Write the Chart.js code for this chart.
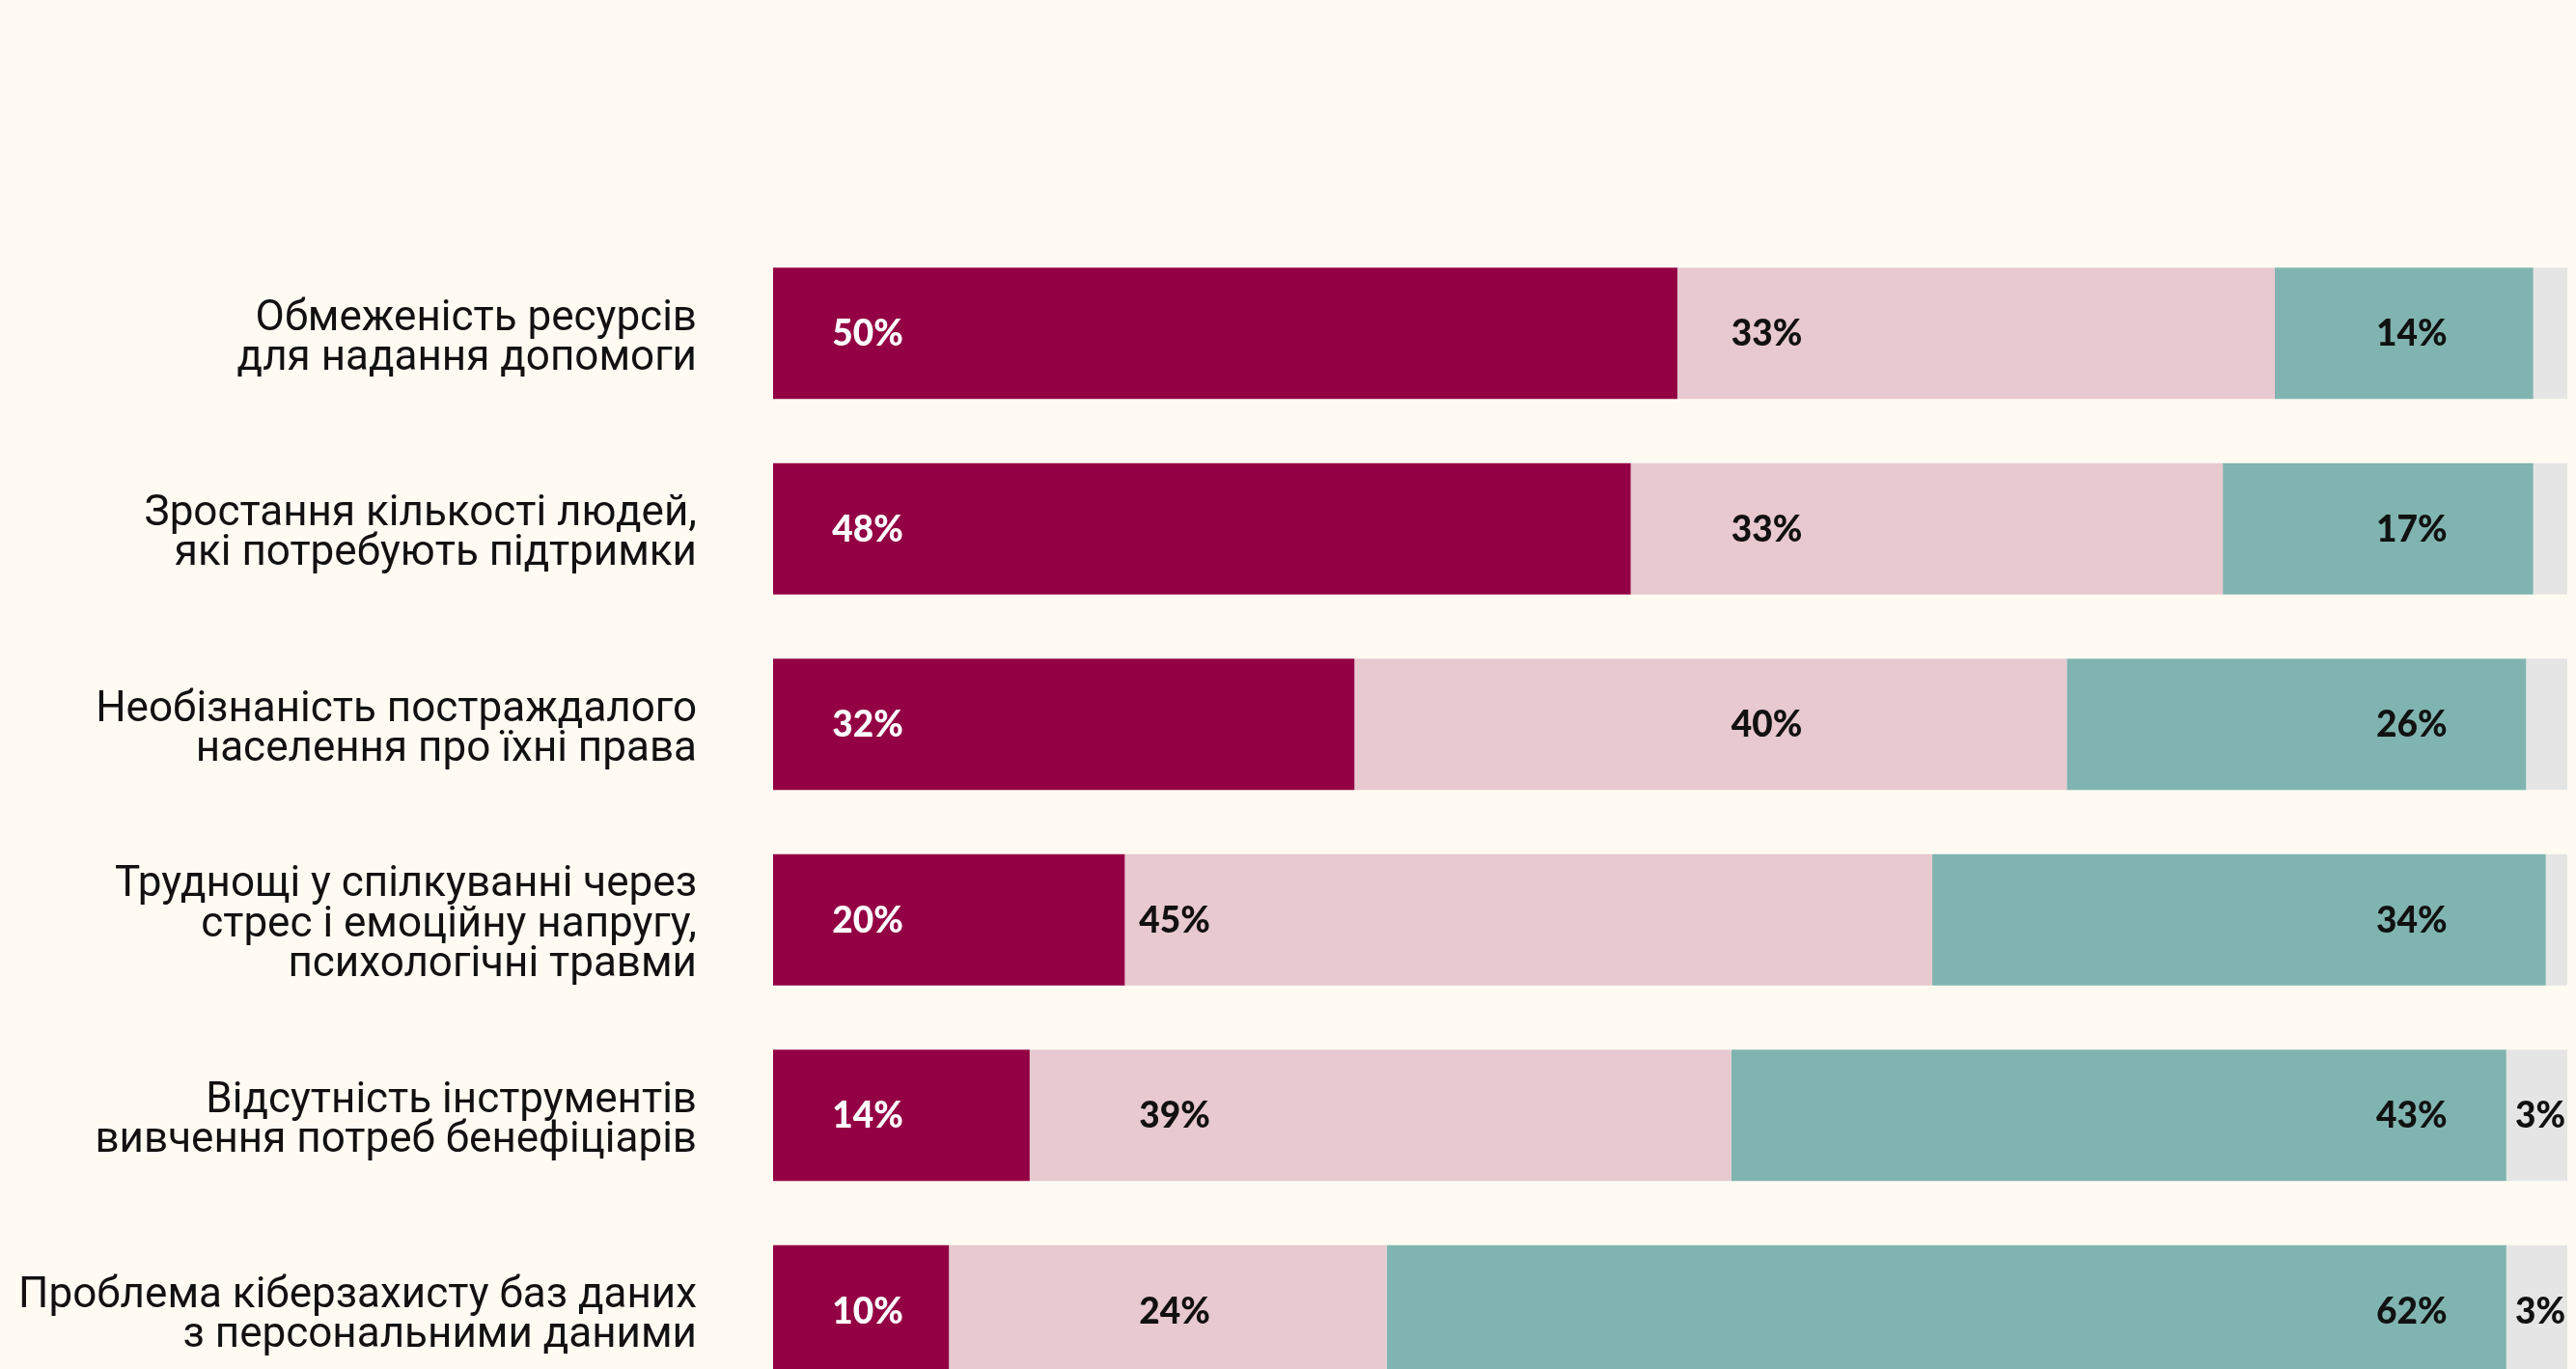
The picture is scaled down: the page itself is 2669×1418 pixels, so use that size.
<!DOCTYPE html>
<html lang="uk">
<head>
<meta charset="utf-8">
<title>Chart</title>
<script src="https://cdn.jsdelivr.net/npm/chart.js@4.4.1/dist/chart.umd.min.js"></script>
<style>
  html, body { margin: 0; padding: 0; background: #FFFBF3; overflow: hidden; }
  #wrap { width: 2669px; height: 1418px; overflow: hidden; }
  canvas { display: block; width: 2669px; height: 1459px; }
</style>
</head>
<body>
<div id="wrap"><canvas id="c" width="2669" height="1459"></canvas></div>
<script>
// ---- data ----
const categories = [
  ["Обмеженість ресурсів", "для надання допомоги"],
  ["Зростання кількості людей,", "які потребують підтримки"],
  ["Необізнаність постраждалого", "населення про їхні права"],
  ["Труднощі у спілкуванні через", "стрес і емоційну напругу,", "психологічні травми"],
  ["Відсутність інструментів", "вивчення потреб бенефіціарів"],
  ["Проблема кіберзахисту баз даних", "з персональними даними"]
];
const seriesNames = ["Серія 1", "Серія 2", "Серія 3", "Серія 4"];
const series1 = [50.4, 47.8, 32.4, 19.6, 14.3, 9.8];
const series2 = [33.3, 33.0, 39.7, 45.0, 39.1, 24.4];
const series3 = [14.4, 17.3, 25.6, 34.2, 43.2, 62.4];
const series4 = [1.9, 1.9, 2.3, 1.2, 3.4, 3.4];

// ---- layout / style (not data) ----
const colors = ["#930044", "#E8C9D0", "#80B4B0", "#E5E5E5"];
const labelColors = ["#FFFFFF", "#111111", "#111111", "#111111"];
// left edge of each value label, in x-axis units
const labelColumns = [
  [3.3, 3.3, 3.3, 3.3, 3.3, 3.3],
  [53.4, 53.4, 53.4, 20.4, 20.4, 20.4],
  [89.35, 89.35, 89.35, 89.35, 89.35, 89.35],
  [97.1, 97.1, 97.1, 97.1, 97.1, 97.1]
];
const minLabel = 3;

const segLabels = {
  id: 'segLabels',
  afterDatasetsDraw(chart) {
    const ctx = chart.ctx;
    const xs = chart.scales.x;
    ctx.save();
    ctx.font = "900 37px Lato, 'Open Sans', sans-serif";
    ctx.textAlign = 'left';
    ctx.textBaseline = 'middle';
    chart.data.datasets.forEach((ds, di) => {
      const meta = chart.getDatasetMeta(di);
      meta.data.forEach((bar, i) => {
        const r = Math.round(ds.data[i]);
        if (r < minLabel) return;
        ctx.fillStyle = labelColors[di];
        ctx.fillText(r + '%', xs.getPixelForValue(labelColumns[di][i]), bar.y + 1);
      });
    });
    ctx.restore();
  }
};

const datasets = [series1, series2, series3, series4].map((d, i) => ({
  label: seriesNames[i],
  data: d,
  backgroundColor: colors[i],
  borderWidth: 0,
  barPercentage: 0.672,
  categoryPercentage: 1.0
}));

new Chart(document.getElementById('c'), {
  type: 'bar',
  data: { labels: categories, datasets },
  options: {
    indexAxis: 'y',
    responsive: false,
    maintainAspectRatio: false,
    devicePixelRatio: 1,
    animation: false,
    layout: { padding: { top: 244, right: 9, left: 0, bottom: 0 } },
    plugins: { legend: { display: false }, tooltip: { enabled: false } },
    scales: {
      x: { stacked: true, min: 0, max: 100, display: false },
      y: {
        stacked: true,
        grid: { display: false, drawTicks: false },
        border: { display: false },
        ticks: {
          color: '#111111',
          padding: 79,
          labelOffset: 6,
          font: { family: 'Roboto', size: 44, weight: 400, lineHeight: 0.94 }
        },
        afterFit(scale) {
          scale.width = 801;
          scale.paddingTop = 0;
          scale.paddingBottom = 0;
        }
      }
    }
  },
  plugins: [segLabels]
});
</script>
</body>
</html>
